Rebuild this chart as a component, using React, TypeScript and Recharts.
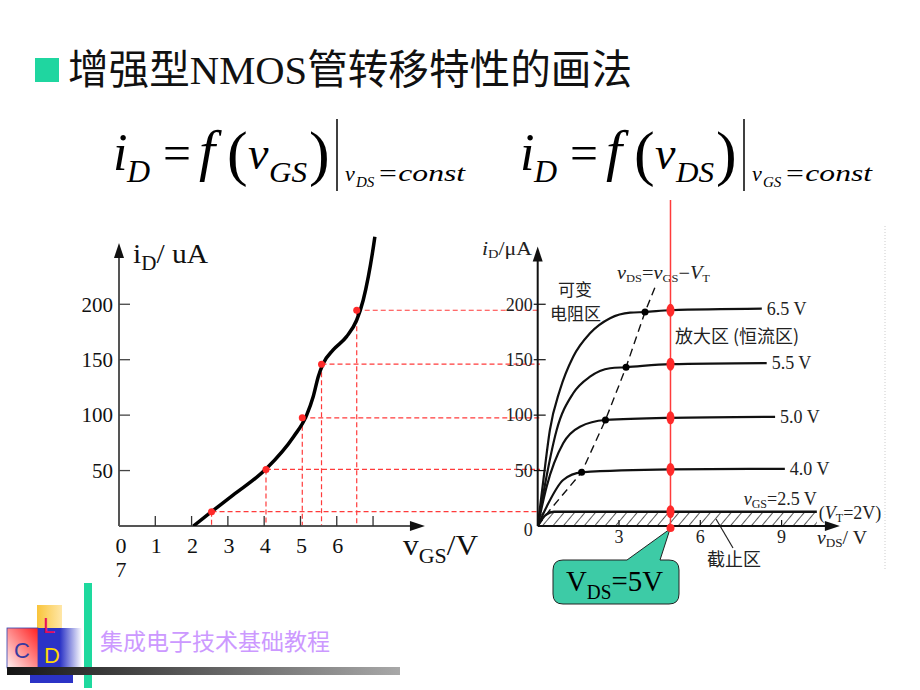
import { LineChart, Line, XAxis, YAxis, ReferenceLine, ReferenceDot, ReferenceArea } from "recharts";

const SERIF = "'Liberation Serif', 'Times New Roman', serif";
const MIXED = "'Liberation Serif', 'Noto Sans CJK SC', serif";
const CJK = "'Noto Sans CJK SC', sans-serif";
const SANS = "'Liberation Sans', sans-serif";

// transfer characteristic (left)
const TRANSFER_VGS = [2.05, 2.55, 3.15, 4.07, 4.81, 5.17, 5.35, 5.49, 5.63, 5.9, 6.27, 6.55, 6.73, 6.87, 7.01, 7.05];
const TRANSFER_ID = [0, 12.9, 28, 52, 80.5, 100, 116.6, 134.7, 146.8, 158.8, 170.8, 185.8, 203.9, 224.9, 252, 261];
const PICK_VGS = [2.55, 4.05, 5.05, 5.58, 6.55];
const PICK_ID = [12.9, 51, 97.6, 146, 194.6];
const LEFT_X_TICKS = [0, 1, 2, 3, 4, 5, 6, 7];
const LEFT_Y_TICKS = [50, 100, 150, 200];

// output characteristics (right)
const OUT_65_VDS = [0, 0.21, 0.45, 0.82, 1.31, 1.93, 2.67, 3.41, 3.96, 4.9, 8.27];
const OUT_65_ID = [0, 41.5, 86.6, 122.7, 152.7, 173.8, 187.4, 192.4, 193, 194.6, 196];
const OUT_55_VDS = [0, 0.21, 0.7, 1.31, 1.93, 2.67, 3.26, 4.9, 8.45];
const OUT_55_ID = [0, 29.5, 86.6, 119.7, 134.7, 142.3, 143.2, 146, 147];
const OUT_50_VDS = [0, 0.33, 0.94, 1.56, 2.5, 4.9, 8.76];
const OUT_50_ID = [0, 35.5, 74.6, 89.6, 95.6, 97.6, 98.5];
const OUT_40_VDS = [0, 0.33, 0.94, 1.62, 4.9, 9.12];
const OUT_40_ID = [0, 17.4, 41.5, 48.4, 51, 51.6];
const OUT_25_VDS = [0, 0.3, 0.6, 10.3];
const OUT_25_ID = [0, 10, 12.9, 12.9];
const CURVE_LABELS = ["6.5 V", "5.5 V", "5.0 V", "4.0 V"];
const KNEE_VDS = [3.96, 3.26, 2.5, 1.62];
const KNEE_ID = [193, 143.2, 95.6, 48.4];
const BOUNDARY_VDS = [0, 0.45, 1.62, 2.5, 3.26, 3.96, 4.39];
const BOUNDARY_ID = [0, 14.4, 48.4, 95.6, 143.2, 193, 219];
const Q_VDS = 4.9;
const Q_ID = [194.6, 146, 97.6, 51, 12.9];
const RIGHT_X_TICKS = [0, 3, 6, 9];
const RIGHT_Y_TICKS = [0, 50, 100, 150, 200];

const zip = (xs: number[], ys: number[]) => xs.map((v, k) => ({ v, i: ys[k] }));

const RED = "#ff2a2a";
const DASH_RED = "#ff3b3b";

const arrowRight = (p: any) => <path d={`M${p.cx},${p.cy} l-15,-5 l0,10 z`} fill="#111" />;
const arrowUp = (p: any) => <path d={`M${p.cx},${p.cy} l-5,15 l10,0 z`} fill="#111" />;

function LeftChart() {
  const xTick = (p: any) => {
    const v = p.payload.value;
    if (v === 0)
      return (
        <text x={p.x + 2} y={p.y + 27} textAnchor="middle" fontSize={22} fontFamily={SERIF} fill="#111">
          0<tspan x={p.x + 2} dy={24}>7</tspan>
        </text>
      );
    return (
      <g>
        <line x1={p.x} x2={p.x} y1={p.y} y2={p.y - 10} stroke="#333" strokeWidth={1.3} />
        {v !== 7 && (
          <text x={p.x + 1} y={p.y + 27} textAnchor="middle" fontSize={22} fontFamily={SERIF} fill="#111">
            {v}
          </text>
        )}
      </g>
    );
  };
  const yTick = (p: any) => (
    <g>
      <line x1={p.x} x2={p.x + 11} y1={p.y} y2={p.y} stroke="#444" strokeWidth={1.3} />
      <text x={p.x - 6} y={p.y} dy="0.35em" textAnchor="end" fontSize={21} fontFamily={SERIF} fill="#111">
        {p.payload.value}
      </text>
    </g>
  );
  return (
    <LineChart width={560} height={600} margin={{ top: 193.4, right: 20, bottom: 44, left: 79 }}>
      <XAxis type="number" dataKey="v" domain={[0, 11.6]} ticks={LEFT_X_TICKS} allowDataOverflow
        axisLine={false} tickLine={false} tickSize={0} tickMargin={0} tick={xTick} height={30} />
      <YAxis type="number" domain={[0, 300]} ticks={LEFT_Y_TICKS} allowDataOverflow
        axisLine={false} tickLine={false} tickSize={0} tickMargin={0} tick={yTick} width={40} />
      {PICK_VGS.map((x, k) => (
        <ReferenceLine key={"h" + k} segment={[{ x, y: PICK_ID[k] }, { x: 11.6, y: PICK_ID[k] }]}
          stroke={DASH_RED} strokeWidth={1.2} strokeDasharray="5 3" />
      ))}
      {PICK_VGS.map((x, k) => (
        <ReferenceLine key={"v" + k} segment={[{ x, y: PICK_ID[k] }, { x, y: 0 }]}
          stroke={DASH_RED} strokeWidth={1.2} strokeDasharray="5 3" />
      ))}
      <ReferenceLine segment={[{ x: 0, y: 0 }, { x: 8.3, y: 0 }]} stroke="#555" strokeWidth={2} />
      <ReferenceLine segment={[{ x: 0, y: 0 }, { x: 0, y: 250 }]} stroke="#555" strokeWidth={2} />
      <ReferenceDot x={8.43} y={0} shape={arrowRight} />
      <ReferenceDot x={0} y={255.3} shape={arrowUp} />
      <Line data={zip(TRANSFER_VGS, TRANSFER_ID)} dataKey="i" type="monotone" stroke="#000"
        strokeWidth={3.5} dot={false} activeDot={false} isAnimationActive={false} />
      {PICK_VGS.map((x, k) => (
        <ReferenceDot key={"d" + k} x={x} y={PICK_ID[k]} r={3.5} fill={RED} stroke="none" />
      ))}
    </LineChart>
  );
}

function RightChart() {
  const xTick = (p: any) => {
    const v = p.payload.value;
    if (v === 0) return <g />;
    return (
      <g>
        <line x1={p.x} x2={p.x} y1={p.y} y2={p.y - 6} stroke="#111" strokeWidth={1.2} />
        <text x={p.x} y={p.y + 17} textAnchor="middle" fontSize={18} fontFamily={SERIF} fill="#222">
          {v}
        </text>
      </g>
    );
  };
  const yTick = (p: any) => (
    <g>
      {p.payload.value !== 0 && <line x1={p.x - 4} x2={p.x + 8} y1={p.y} y2={p.y} stroke="#111" strokeWidth={1.2} />}
      <text x={p.x - 5} y={p.payload.value === 0 ? p.y + 4 : p.y} dy="0.35em" textAnchor="end" fontSize={18}
        fontFamily={SERIF} fill="#222">
        {p.payload.value}
      </text>
    </g>
  );
  const curves = [
    zip(OUT_65_VDS, OUT_65_ID),
    zip(OUT_55_VDS, OUT_55_ID),
    zip(OUT_50_VDS, OUT_50_ID),
    zip(OUT_40_VDS, OUT_40_ID),
  ];
  const low = zip(OUT_25_VDS, OUT_25_ID);
  const lowEnd = low[low.length - 1];
  return (
    <LineChart width={480} height={600} margin={{ top: 193.4, right: 57.1, bottom: 44, left: 57.7 }}>
      <XAxis type="number" dataKey="v" domain={[0, 12]} ticks={RIGHT_X_TICKS} allowDataOverflow
        axisLine={false} tickLine={false} tickSize={0} tickMargin={0} tick={xTick} height={30} />
      <YAxis type="number" domain={[0, 300]} ticks={RIGHT_Y_TICKS} allowDataOverflow
        axisLine={false} tickLine={false} tickSize={0} tickMargin={0} tick={yTick} width={40} />
      <ReferenceArea x1={0} x2={lowEnd.v} y1={0} y2={lowEnd.i} fill="url(#hatch)" fillOpacity={1} stroke="none" />
      <ReferenceLine segment={[{ x: 0, y: 0 }, { x: 11, y: 0 }]} stroke="#111" strokeWidth={2.2} />
      <ReferenceLine segment={[{ x: 0, y: 0 }, { x: 0, y: 248 }]} stroke="#111" strokeWidth={2} />
      <ReferenceDot x={11.15} y={0} shape={arrowRight} />
      <ReferenceDot x={0} y={252} shape={arrowUp} />
      {curves.map((d, k) => (
        <Line key={k} data={d} dataKey="i" type="monotone" stroke="#111" strokeWidth={2.2}
          dot={false} activeDot={false} isAnimationActive={false} />
      ))}
      <Line data={low} dataKey="i" type="monotone" stroke="#111" strokeWidth={2.4}
        dot={false} activeDot={false} isAnimationActive={false} />
      <Line data={zip(BOUNDARY_VDS, BOUNDARY_ID)} dataKey="i" type="linear" stroke="#111" strokeWidth={1.4}
        strokeDasharray="8 5" dot={false} activeDot={false} isAnimationActive={false} />
      <ReferenceLine segment={[{ x: Q_VDS, y: 0 }, { x: Q_VDS, y: 294 }]} stroke={DASH_RED} strokeWidth={1.5} />
      {KNEE_VDS.map((x, k) => (
        <ReferenceDot key={"k" + k} x={x} y={KNEE_ID[k]} r={3.5} fill="#000" stroke="none" />
      ))}
      {Q_ID.map((y, k) => (
        <ReferenceDot key={"q" + k} x={Q_VDS} y={y}
          shape={(p: any) => <ellipse cx={p.cx} cy={p.cy} rx={4} ry={6.5} fill={RED} />} />
      ))}
      <ReferenceDot x={Q_VDS} y={0} shape={(p: any) => <circle cx={p.cx} cy={p.cy + 2} r={4} fill={RED} />} />
      {curves.map((d, k) => {
        const end = d[d.length - 1];
        return (
          <ReferenceDot key={"l" + k} x={end.v} y={end.i}
            shape={(p: any) => (
              <text x={p.cx + 5} y={p.cy} dy="0.35em" fontSize={18} fontFamily={SERIF} fill="#222">
                {CURVE_LABELS[k]}
              </text>
            )} />
        );
      })}
      <ReferenceDot x={lowEnd.v} y={lowEnd.i}
        shape={(p: any) => (
          <g fontFamily={SERIF} fill="#222">
            <text x={p.cx} y={p.cy - 7} textAnchor="end" fontSize={18}>
              <tspan fontStyle="italic">v</tspan>
              <tspan fontSize={12} dy={3}>GS</tspan>
              <tspan dy={-3}>=2.5 V</tspan>
            </text>
            <text x={p.cx + 2} y={p.cy + 7} fontSize={18}>
              (<tspan fontStyle="italic">V</tspan>
              <tspan fontSize={12} dy={3}>T</tspan>
              <tspan dy={-3}>=2V)</tspan>
            </text>
          </g>
        )} />
    </LineChart>
  );
}

// one "i_D = f(v_XX)|_{v_YY=const}" formula, x0 = left edge of the i
function Formula({ x0, arg, cond }: { x0: number; arg: string; cond: string }) {
  return (
    <g fontFamily={SERIF} fill="#000">
      <text x={x0} y={170} fontSize={52} fontStyle="italic">i</text>
      <text x={x0 + 14} y={182} fontSize={32} fontStyle="italic">D</text>
      <text x={x0 + 50} y={170} fontSize={50} textLength={28} lengthAdjust="spacingAndGlyphs">=</text>
      <text x={x0 + 86} y={170} fontSize={58} fontStyle="italic">f</text>
      <text x={x0 + 114} y={174} fontSize={62}>(</text>
      <text x={x0 + 135} y={169} fontSize={46} fontStyle="italic">v</text>
      <text x={x0 + 156} y={182} fontSize={30} fontStyle="italic" textLength={38} lengthAdjust="spacingAndGlyphs">{arg}</text>
      <text x={x0 + 196} y={174} fontSize={62}>)</text>
      <line x1={x0 + 224} x2={x0 + 224} y1={119} y2={191} stroke="#000" strokeWidth={1.5} />
      <text x={x0 + 232} y={181} fontSize={22} fontStyle="italic">v</text>
      <text x={x0 + 243} y={187} fontSize={15} fontStyle="italic">{cond}</text>
      <text x={x0 + 264} y={181} fontSize={24} fontStyle="italic" textLength={88} lengthAdjust="spacingAndGlyphs">=const</text>
    </g>
  );
}

function Overlay() {
  return (
    <svg width={920} height={690} style={{ position: "absolute", left: 0, top: 0 }}>
      <defs>
        <pattern id="hatch" width={8} height={8} patternUnits="userSpaceOnUse" patternTransform="rotate(40)">
          <line x1={0} y1={0} x2={0} y2={8} stroke="#111" strokeWidth={1.4} />
        </pattern>
        <linearGradient id="barGrad" x1="0" y1="0" x2="1" y2="0">
          <stop offset="0" stopColor="#151515" />
          <stop offset="1" stopColor="#a8a8a8" />
        </linearGradient>
        <linearGradient id="pinkGrad" x1="0" y1="1" x2="1" y2="0">
          <stop offset="0" stopColor="#fff2f2" />
          <stop offset="1" stopColor="#ff2020" />
        </linearGradient>
        <linearGradient id="yelGrad" x1="0" y1="0" x2="1" y2="0">
          <stop offset="0" stopColor="#f9c43a" />
          <stop offset="1" stopColor="#ffe7a8" />
        </linearGradient>
        <linearGradient id="blueGrad" x1="0" y1="0" x2="1" y2="0">
          <stop offset="0" stopColor="#2b33c6" />
          <stop offset="0.5" stopColor="#2b33c6" />
          <stop offset="1" stopColor="#ffffff" />
        </linearGradient>
      </defs>

      {/* header */}
      <rect x={35} y={58} width={24} height={24} fill="#1fd6a0" />
      <text x={68} y={84} fontSize={41} fontFamily={MIXED} fill="#111" textLength={564} lengthAdjust="spacingAndGlyphs">
        增强型NMOS管转移特性的画法
      </text>

      <Formula x0={113} arg="GS" cond="DS" />
      <Formula x0={520} arg="DS" cond="GS" />

      {/* left chart axis titles */}
      <text x={133} y={263} fontSize={28} fontFamily={SERIF} fill="#111" textLength={75} lengthAdjust="spacingAndGlyphs">
        i<tspan fontSize={20} dy={7}>D</tspan><tspan dy={-7}>/ uA</tspan>
      </text>
      <text x={403} y={555} fontSize={30} fontFamily={SERIF} fill="#111" textLength={75} lengthAdjust="spacingAndGlyphs">
        v<tspan fontSize={21} dy={8}>GS</tspan><tspan dy={-8}>/V</tspan>
      </text>

      {/* right chart annotations */}
      <g fontFamily={SERIF} fill="#222">
        <text x={482} y={255} fontSize={18} textLength={50} lengthAdjust="spacingAndGlyphs">
          <tspan fontStyle="italic">i</tspan><tspan fontSize={12} dy={3}>D</tspan><tspan dy={-3}>/μA</tspan>
        </text>
        <text x={617} y={279} fontSize={18} textLength={93} lengthAdjust="spacingAndGlyphs">
          <tspan fontStyle="italic">v</tspan><tspan fontSize={11} dy={3}>DS</tspan>
          <tspan dy={-3}>=</tspan><tspan fontStyle="italic">v</tspan><tspan fontSize={11} dy={3}>GS</tspan>
          <tspan dy={-3}>−</tspan><tspan fontStyle="italic">V</tspan><tspan fontSize={11} dy={3}>T</tspan>
        </text>
        <text x={817} y={544} fontSize={18} textLength={50} lengthAdjust="spacingAndGlyphs">
          <tspan fontStyle="italic">v</tspan><tspan fontSize={12} dy={3}>DS</tspan><tspan dy={-3}>/ V</tspan>
        </text>
      </g>
      <g fontFamily={CJK} fill="#222" fontSize={17}>
        <text x={558} y={296}>可变</text>
        <text x={550} y={320}>电阻区</text>
        <text x={675} y={343} fontSize={18}>放大区 (恒流区)</text>
        <text x={707} y={566} fontSize={18}>截止区</text>
      </g>
      <line x1={733} y1={548} x2={716} y2={519} stroke="#222" strokeWidth={1.2} />
      <line x1={885} y1={226} x2={885} y2={570} stroke="#ccc" strokeWidth={1} strokeDasharray="1 2" />

      {/* callout */}
      <path d="M563,560 L627,560 L670,529 L660,560 L669,560 Q679,560 679,570 L679,594 Q679,604 669,604 L563,604 Q553,604 553,594 L553,570 Q553,560 563,560 Z"
        fill="#3dcba6" stroke="#222" strokeWidth={1} />
      <text x={566} y={591} fontSize={30} fontFamily={SERIF} fill="#000" textLength={97} lengthAdjust="spacingAndGlyphs">
        V<tspan fontSize={20} dy={8}>DS</tspan><tspan dy={-8}>=5V</tspan>
      </text>

      {/* footer */}
      <rect x={84} y={583} width={8} height={105} fill="#1ed99e" />
      <rect x={37} y={605} width={25} height={29} fill="url(#yelGrad)" />
      <rect x={7} y={628} width={31} height={40} fill="url(#pinkGrad)" stroke="#3040b0" strokeWidth={0.8} />
      <rect x={38} y={628} width={44} height={40} fill="url(#blueGrad)" />
      <text x={49} y={633} textAnchor="middle" fontSize={22} fontFamily={SANS} fill="#e5105a">L</text>
      <text x={22} y={658} textAnchor="middle" fontSize={22} fontFamily={SANS} fill="#3a3aa0">C</text>
      <text x={52} y={663} textAnchor="middle" fontSize={22} fontFamily={SANS} fill="#ffd700">D</text>
      <rect x={30} y={674} width={43} height={9} fill="#2b33c6" />
      <rect x={7} y={667} width={393} height={8} fill="url(#barGrad)" />
      <text x={100} y={650} fontSize={23} fontFamily={CJK} fill="#cc99ff" textLength={230} lengthAdjust="spacingAndGlyphs">
        集成电子技术基础教程
      </text>
    </svg>
  );
}

export default function App() {
  return (
    <div style={{ position: "absolute", left: 0, top: 0, width: 920, height: 690, background: "#fff", overflow: "hidden" }}>
      <Overlay />
      <div style={{ position: "absolute", left: 0, top: 0 }}>
        <LeftChart />
      </div>
      <div style={{ position: "absolute", left: 440, top: 0 }}>
        <RightChart />
      </div>
    </div>
  );
}
